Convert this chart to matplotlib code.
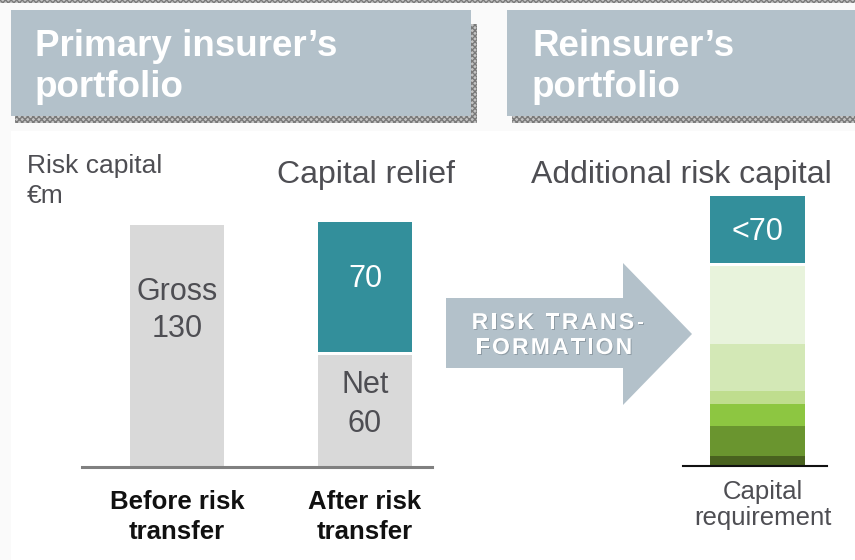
import matplotlib
matplotlib.use("Agg")
import matplotlib.pyplot as plt
import matplotlib.patheffects as pe
from matplotlib.patches import Rectangle, Polygon
from matplotlib.font_manager import FontProperties
from matplotlib.textpath import TextToPath

# ---------------- data ----------------
left_categories = ["Before risk\ntransfer", "After risk\ntransfer"]
gross_value = [130, 0]
net_value = [0, 60]
relief_value = [0, 70]
bar_labels_gross = ["Gross", "130"]
bar_labels_net = ["Net", "60"]
bar_label_relief = "70"

# reinsurer capital requirement segments (bottom -> top), schematic
reins_segments = [6, 16, 12, 7, 25, 42]
reins_colors = ["#49621f", "#6a952f", "#8dc641", "#bfdd8e", "#d3e8b6", "#e8f3dc"]
reins_additional = [36]
reins_additional_label = "<70"

header_left = ["Primary insurer\u2019s", "portfolio"]
header_right = ["Reinsurer\u2019s", "portfolio"]
arrow_text = ["RISK TRANS-", "FORMATION"]

# ---------------- styling ----------------
W, H = 855, 560
TEAL = "#338f9b"
GREY_BAR = "#d9d9d9"
HEAD = "#b3c1ca"
TXT = "#4e4e53"
FONT = "Liberation Sans"
PX_PER_UNIT = 1.86
BASE_L = 467
BASE_R = 466

fig = plt.figure(figsize=(W / 100, H / 100), dpi=100)
fig.patch.set_facecolor("#fafafa")

ov = fig.add_axes([0, 0, 1, 1])
ov.set_xlim(0, W)
ov.set_ylim(H, 0)
ov.axis("off")
ov.set_zorder(0)

ov.add_patch(Rectangle((11, 131), W - 11, H - 131, facecolor="white", edgecolor="none"))


def shadow(x, y, w, h):
    ov.add_patch(Rectangle((x, y), w, h, facecolor="#c4c4c4", edgecolor="#7a7a7a",
                           hatch="xxxxxx", linewidth=0))


shadow(0, 0, W, 3)
shadow(471, 24, 6, 99)
shadow(15, 116, 462, 7)
shadow(512, 116, W - 512, 7)

ov.add_patch(Rectangle((11, 10), 460, 106, facecolor=HEAD, edgecolor="none"))
ov.add_patch(Rectangle((507, 10), W - 507, 106, facecolor=HEAD, edgecolor="none"))
for i, line in enumerate(header_left):
    ov.text(35, 56 + 41 * i, line, color="white", fontsize=26.5, fontweight="bold",
            family=FONT, va="baseline", ha="left")
for i, line in enumerate(header_right):
    ov.text(532, 56 + 41 * i, line, color="white", fontsize=26.5, fontweight="bold",
            family=FONT, va="baseline", ha="left")

ov.text(27, 173, "Risk capital", color=TXT, fontsize=19, family=FONT, va="baseline")
ov.text(27, 203, "\u20acm", color=TXT, fontsize=19, family=FONT, va="baseline")
ov.text(366, 183, "Capital relief", color=TXT, fontsize=23, family=FONT,
        va="baseline", ha="center")
ov.text(681, 183, "Additional risk capital", color=TXT, fontsize=23, family=FONT,
        va="baseline", ha="center")

# arrow
arrow = Polygon([(446, 298), (623, 298), (623, 263), (692, 334), (623, 405),
                 (623, 368), (446, 368)], closed=True, facecolor=HEAD, edgecolor="none")
ov.add_patch(arrow)

_ttp = TextToPath()
_shadow_fx = [pe.SimplePatchShadow(offset=(0.7, -0.7), shadow_rgbFace="#7f8c95", alpha=0.7),
              pe.Normal()]


def tracked_text(cx, baseline, s, size, tracking_px, **kw):
    fp = FontProperties(family=FONT, weight="bold", size=size)
    widths = []
    for ch in s:
        w, _, _ = _ttp.get_text_width_height_descent(ch, fp, ismath=False)
        widths.append(w * 100 / 72)
    total = sum(widths) + tracking_px * (len(s) - 1)
    x = cx - total / 2
    for ch, w in zip(s, widths):
        ov.text(x, baseline, ch, fontproperties=fp, va="baseline", ha="left",
                path_effects=_shadow_fx, **kw)
        x += w + tracking_px


tracked_text(558, 329, arrow_text[0], 16.5, 2.5, color="white")
tracked_text(554, 354, arrow_text[1], 16.5, 2.2, color="white")

# ---------------- left bar axes ----------------
def add_px_axes(x0, x1, y_top, y_bottom):
    return fig.add_axes([x0 / W, (H - y_bottom) / H, (x1 - x0) / W, (y_bottom - y_top) / H])


def py(px, base):
    """pixel row -> data units above the baseline"""
    return (base - px) / PX_PER_UNIT


SPACING = 188.0
axL = add_px_axes(82, 432, 150, BASE_L)
axL.set_xlim(-(177 - 82) / SPACING, 1 + (432 - 365) / SPACING)
axL.set_ylim(0, (BASE_L - 150) / PX_PER_UNIT)
axL.patch.set_alpha(0)
for s in ["top", "right", "left"]:
    axL.spines[s].set_visible(False)
axL.spines["bottom"].set_color("#808080")
axL.spines["bottom"].set_linewidth(2.2)
axL.set_yticks([])
axL.set_xticks([])

xs = [0, 1]
bw = 94 / SPACING
gap = 3 / PX_PER_UNIT
axL.bar(xs, gross_value, width=bw, color=GREY_BAR, edgecolor="none")
axL.bar(xs, net_value, width=bw, color=GREY_BAR, edgecolor="none")
axL.bar(xs, relief_value, width=bw, bottom=[n + gap for n in net_value], color=TEAL,
        edgecolor="none")

lbl = dict(ha="center", va="baseline", color=TXT, fontsize=22, family=FONT)
axL.text(0, py(300, BASE_L), bar_labels_gross[0], **lbl)
axL.text(0, py(337, BASE_L), bar_labels_gross[1], **lbl)
axL.text(1, py(287, BASE_L), bar_label_relief, **{**lbl, "color": "white"})
axL.text(1, py(393, BASE_L), bar_labels_net[0], **lbl)
axL.text(1, py(432, BASE_L), bar_labels_net[1], **lbl)

for x, lab in zip(xs, left_categories):
    l1, l2 = lab.split("\n")
    axL.text(x, py(509, BASE_L), l1, ha="center", va="baseline", color="#111111",
             fontsize=18.5, fontweight="bold", family=FONT, clip_on=False)
    axL.text(x, py(539, BASE_L), l2, ha="center", va="baseline", color="#111111",
             fontsize=18.5, fontweight="bold", family=FONT, clip_on=False)

# ---------------- right bar axes ----------------
axR = add_px_axes(683, 827, 150, BASE_R)
axR.set_xlim(-(757.5 - 683) / SPACING, (827 - 757.5) / SPACING)
axR.set_ylim(0, (BASE_R - 150) / PX_PER_UNIT)
axR.patch.set_alpha(0)
for s in ["top", "right", "left"]:
    axR.spines[s].set_visible(False)
axR.spines["bottom"].set_color("#111111")
axR.spines["bottom"].set_linewidth(1.5)
axR.spines["bottom"].set_zorder(5)
axR.set_yticks([])
axR.set_xticks([])

rbw = 95 / SPACING
bottom = -0.6
for v, c in zip(reins_segments, reins_colors):
    axR.bar([0], [v], width=rbw, bottom=bottom, color=c, edgecolor="none", zorder=2)
    bottom += v
axR.bar([0], reins_additional, width=rbw, bottom=bottom + gap, color=TEAL,
        edgecolor="none", zorder=2)
axR.text(0, py(240, BASE_R), reins_additional_label, ha="center", va="baseline",
         color="white", fontsize=22, family=FONT)
axR.text(0.03, py(499, BASE_R), "Capital", ha="center", va="baseline",
         color=TXT, fontsize=18.5, family=FONT, clip_on=False)
axR.text(0.03, py(525, BASE_R), "requirement", ha="center", va="baseline",
         color=TXT, fontsize=18.5, family=FONT, clip_on=False)

fig.savefig("out.png", dpi=100, facecolor=fig.get_facecolor())
